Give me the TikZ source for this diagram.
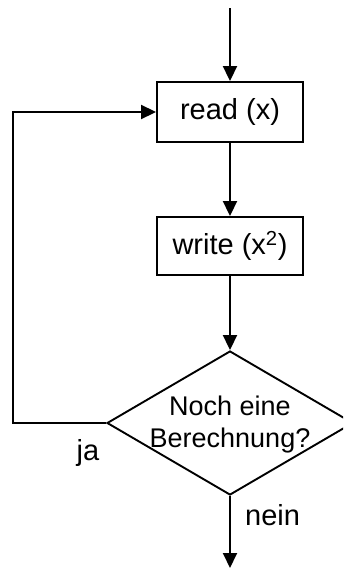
\documentclass[tikz,border=0pt]{standalone}
\usepackage{fontspec}
\setmainfont{Liberation Sans}
\usetikzlibrary{arrows.meta,shapes.geometric}
\tikzset{
  lw/.style={line width=1.9pt},
  box/.style={draw,lw,minimum width=146pt,inner sep=0pt,font=\fontsize{29}{34}\selectfont},
  dia/.style={draw,lw,diamond,minimum width=246pt,minimum height=144pt,inner sep=0pt},
  lbl/.style={font=\fontsize{29}{34}\selectfont,inner sep=0pt},
  dtext/.style={align=center,font=\fontsize{27}{32}\selectfont,inner sep=0pt},
  flow/.style={lw,-{Triangle[length=15pt,width=14pt]}}
}
\begin{document}
\begin{tikzpicture}[x=1pt,y=-1pt]
\clip (0,0) rectangle (343,568);
\coordinate (top) at (230,8);
\coordinate (bot) at (230,568);
\node[box,minimum height=60pt] (read) at (230,112) {read (x)};
\node[box,minimum height=58pt] (write) at (230,246) {write (x\textsuperscript{2})};
\node[dia] (d) at (230,423) {};
\node[dtext] (dt) at (230,425) {Noch eine\\Berechnung?};
\coordinate (lc) at (13,423);
\node[lbl,anchor=base] (ja) at (88,460) {ja};
\node[lbl,anchor=base west] (nein) at (245,525) {nein};
\draw[flow] (top) -- (read.north);
\draw[flow] (read.south) -- (write.north);
\draw[flow] (write.south) -- (d.north);
\draw[flow] (d.south) -- (bot);
\draw[flow] (d.west) -- (lc) |- (read.west);
\end{tikzpicture}
\end{document}
